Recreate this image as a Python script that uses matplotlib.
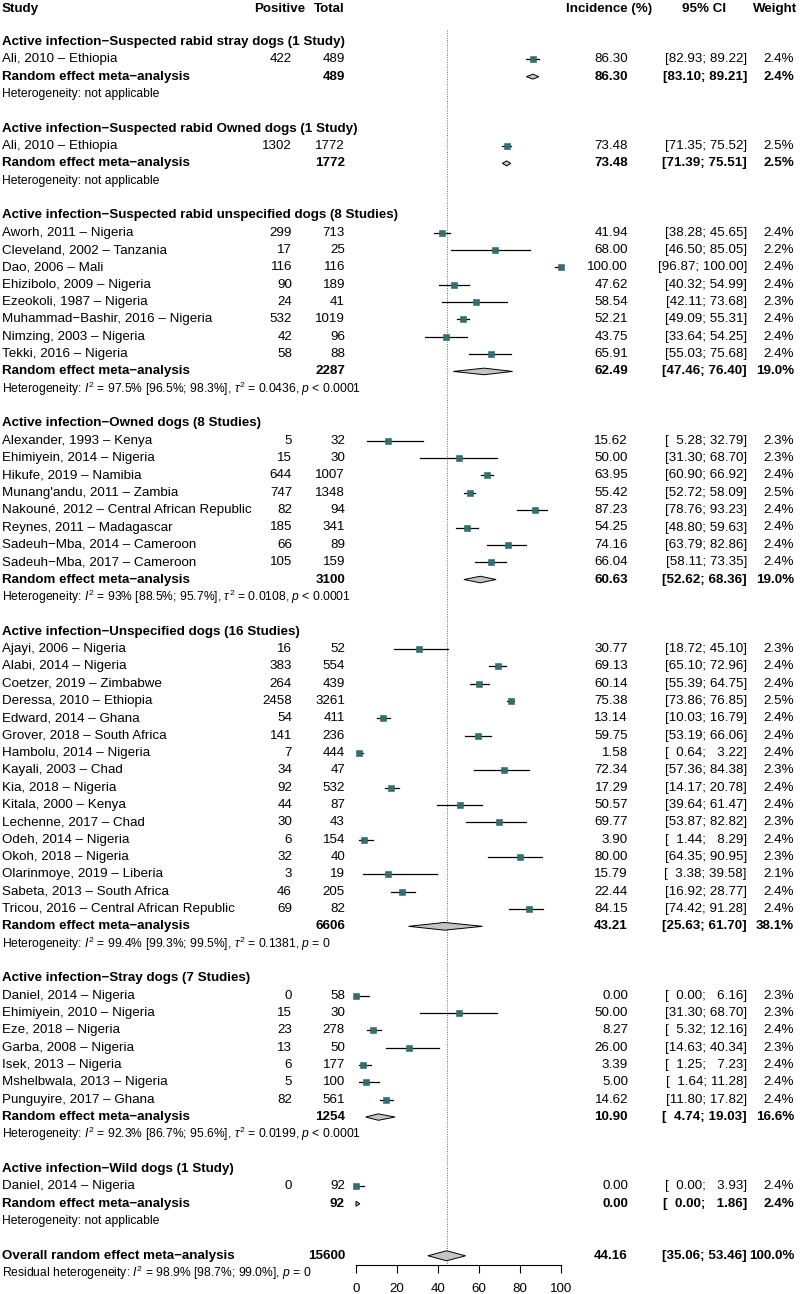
import matplotlib
matplotlib.use('Agg')
import matplotlib.pyplot as plt
import numpy as np
from matplotlib.transforms import blended_transform_factory

plt.rcParams['font.family'] = ['Liberation Sans', 'DejaVu Sans']
plt.rcParams['mathtext.fontset'] = 'custom'
plt.rcParams['mathtext.rm'] = 'Liberation Sans'
plt.rcParams['mathtext.it'] = 'Liberation Sans:italic'
plt.rcParams['mathtext.bf'] = 'Liberation Sans:bold'

# ---- data ----
group_titles = [
    "Active infection\u2212Suspected rabid stray dogs (1 Study)",
    "Active infection\u2212Suspected rabid Owned dogs (1 Study)",
    "Active infection\u2212Suspected rabid unspecified dogs (8 Studies)",
    "Active infection\u2212Owned dogs (8 Studies)",
    "Active infection\u2212Unspecified dogs (16 Studies)",
    "Active infection\u2212Stray dogs (7 Studies)",
    "Active infection\u2212Wild dogs (1 Study)",
]
group_sizes = [1, 1, 8, 8, 16, 7, 1]

study_names = [
    "Ali, 2010 \u2013 Ethiopia",
    "Ali, 2010 \u2013 Ethiopia",
    "Aworh, 2011 \u2013 Nigeria", "Cleveland, 2002 \u2013 Tanzania", "Dao, 2006 \u2013 Mali",
    "Ehizibolo, 2009 \u2013 Nigeria", "Ezeokoli, 1987 \u2013 Nigeria",
    "Muhammad\u2212Bashir, 2016 \u2013 Nigeria", "Nimzing, 2003 \u2013 Nigeria", "Tekki, 2016 \u2013 Nigeria",
    "Alexander, 1993 \u2013 Kenya", "Ehimiyein, 2014 \u2013 Nigeria", "Hikufe, 2019 \u2013 Namibia",
    "Munang'andu, 2011 \u2013 Zambia", "Nakouné, 2012 \u2013 Central African Republic",
    "Reynes, 2011 \u2013 Madagascar", "Sadeuh\u2212Mba, 2014 \u2013 Cameroon", "Sadeuh\u2212Mba, 2017 \u2013 Cameroon",
    "Ajayi, 2006 \u2013 Nigeria", "Alabi, 2014 \u2013 Nigeria", "Coetzer, 2019 \u2013 Zimbabwe",
    "Deressa, 2010 \u2013 Ethiopia", "Edward, 2014 \u2013 Ghana", "Grover, 2018 \u2013 South Africa",
    "Hambolu, 2014 \u2013 Nigeria", "Kayali, 2003 \u2013 Chad", "Kia, 2018 \u2013 Nigeria",
    "Kitala, 2000 \u2013 Kenya", "Lechenne, 2017 \u2013 Chad", "Odeh, 2014 \u2013 Nigeria",
    "Okoh, 2018 \u2013 Nigeria", "Olarinmoye, 2019 \u2013 Liberia", "Sabeta, 2013 \u2013 South Africa",
    "Tricou, 2016 \u2013 Central African Republic",
    "Daniel, 2014 \u2013 Nigeria", "Ehimiyein, 2010 \u2013 Nigeria", "Eze, 2018 \u2013 Nigeria",
    "Garba, 2008 \u2013 Nigeria", "Isek, 2013 \u2013 Nigeria", "Mshelbwala, 2013 \u2013 Nigeria",
    "Punguyire, 2017 \u2013 Ghana",
    "Daniel, 2014 \u2013 Nigeria",
]
positive = [422, 1302, 299, 17, 116, 90, 24, 532, 42, 58,
            5, 15, 644, 747, 82, 185, 66, 105,
            16, 383, 264, 2458, 54, 141, 7, 34, 92, 44, 30, 6, 32, 3, 46, 69,
            0, 15, 23, 13, 6, 5, 82, 0]
total = [489, 1772, 713, 25, 116, 189, 41, 1019, 96, 88,
         32, 30, 1007, 1348, 94, 341, 89, 159,
         52, 554, 439, 3261, 411, 236, 444, 47, 532, 87, 43, 154, 40, 19, 205, 82,
         58, 30, 278, 50, 177, 100, 561, 92]
incidence = [86.30, 73.48, 41.94, 68.00, 100.00, 47.62, 58.54, 52.21, 43.75, 65.91,
             15.62, 50.00, 63.95, 55.42, 87.23, 54.25, 74.16, 66.04,
             30.77, 69.13, 60.14, 75.38, 13.14, 59.75, 1.58, 72.34, 17.29, 50.57, 69.77, 3.90,
             80.00, 15.79, 22.44, 84.15,
             0.00, 50.00, 8.27, 26.00, 3.39, 5.00, 14.62, 0.00]
ci_lower = [82.93, 71.35, 38.28, 46.50, 96.87, 40.32, 42.11, 49.09, 33.64, 55.03,
            5.28, 31.30, 60.90, 52.72, 78.76, 48.80, 63.79, 58.11,
            18.72, 65.10, 55.39, 73.86, 10.03, 53.19, 0.64, 57.36, 14.17, 39.64, 53.87, 1.44,
            64.35, 3.38, 16.92, 74.42,
            0.00, 31.30, 5.32, 14.63, 1.25, 1.64, 11.80, 0.00]
ci_upper = [89.22, 75.52, 45.65, 85.05, 100.00, 54.99, 73.68, 55.31, 54.25, 75.68,
            32.79, 68.70, 66.92, 58.09, 93.23, 59.63, 82.86, 73.35,
            45.10, 72.96, 64.75, 76.85, 16.79, 66.06, 3.22, 84.38, 20.78, 61.47, 82.82, 8.29,
            90.95, 39.58, 28.77, 91.28,
            6.16, 68.70, 12.16, 40.34, 7.23, 11.28, 17.82, 3.93]
weight = [2.4, 2.5, 2.4, 2.2, 2.4, 2.4, 2.3, 2.4, 2.4, 2.4,
          2.3, 2.3, 2.4, 2.5, 2.4, 2.4, 2.4, 2.4,
          2.3, 2.4, 2.4, 2.5, 2.4, 2.4, 2.4, 2.3, 2.4, 2.4, 2.3, 2.4, 2.3, 2.1, 2.4, 2.4,
          2.3, 2.3, 2.4, 2.3, 2.4, 2.4, 2.4, 2.4]

re_total = [489, 1772, 2287, 3100, 6606, 1254, 92]
re_est = [86.30, 73.48, 62.49, 60.63, 43.21, 10.90, 0.00]
re_lower = [83.10, 71.39, 47.46, 52.62, 25.63, 4.74, 0.00]
re_upper = [89.21, 75.51, 76.40, 68.36, 61.70, 19.03, 1.86]
re_weight = [2.4, 2.5, 19.0, 19.0, 38.1, 16.6, 2.4]
het_text = [
    "Heterogeneity: not applicable",
    "Heterogeneity: not applicable",
    r"Heterogeneity: $I^2$ = 97.5% [96.5%; 98.3%], $\tau^2$ = 0.0436, $p$ < 0.0001",
    r"Heterogeneity: $I^2$ = 93% [88.5%; 95.7%], $\tau^2$ = 0.0108, $p$ < 0.0001",
    r"Heterogeneity: $I^2$ = 99.4% [99.3%; 99.5%], $\tau^2$ = 0.1381, $p$ = 0",
    r"Heterogeneity: $I^2$ = 92.3% [86.7%; 95.6%], $\tau^2$ = 0.0199, $p$ < 0.0001",
    "Heterogeneity: not applicable",
]

overall_total = 15600
overall_est = 44.16
overall_lower = 35.06
overall_upper = 53.46
overall_weight = 100.0
residual_het = r"Residual heterogeneity: $I^2$ = 98.9% [98.7%; 99.0%], $p$ = 0"

x_ticks = [0, 20, 40, 60, 80, 100]

# ---- layout ----
W, H = 800, 1294
row0_px = 7.3
row_h = 17.34
axis_px = 1265

fig = plt.figure(figsize=(W / 100, H / 100), dpi=100)
ax = fig.add_axes([356 / W, 1 - axis_px / H, 205 / W, axis_px / H])
ax.set_xlim(0, 100)
ax.set_ylim((axis_px - row0_px) / row_h, -row0_px / row_h)
for s in ['top', 'left', 'right']:
    ax.spines[s].set_visible(False)
ax.spines['bottom'].set_linewidth(0.8)
ax.set_yticks([])
ax.set_xticks(x_ticks)
ax.tick_params(axis='x', direction='out', length=5.8, width=0.8, pad=7, labelsize=9.6)

tr = blended_transform_factory(fig.transFigure, ax.transData)
fs = 9.6
fs_het = 8.7
sq_col = '#2b7272'
dia_col = '#c4c4c4'


def txt(xpx, row, s, ha='left', bold=False, size=fs):
    ax.text(xpx / W, row, s, transform=tr, ha=ha, va='center',
            fontsize=size, fontweight='bold' if bold else 'normal', clip_on=False)


def pad(v):
    s = f"{v:.2f}"
    # two spaces are as wide as one digit in this font
    return "  " * max(0, 5 - len(s)) + s


def num_cols(row, est, lo, hi, w, bold=False):
    txt(628, row, f"{est:.2f}", ha='right', bold=bold)
    txt(747, row, f"[{pad(lo)}; {pad(hi)}]", ha='right', bold=bold)
    txt(794, row, f"{w:.1f}%", ha='right', bold=bold)


def diamond(row, est, lo, hi, w):
    h = (2.0 + 3.0 * np.sqrt(w / 100)) / row_h
    ax.fill([lo, est, hi, est], [row, row - h, row, row + h], facecolor=dia_col,
            edgecolor='black', linewidth=0.7, clip_on=False, zorder=3)


# header
txt(2, 0.1, "Study", bold=True)
txt(305, 0.1, "Positive", ha='right', bold=True)
txt(345, 0.1, "Total", ha='right', bold=True)
txt(652, 0.1, "Incidence (%)", ha='right', bold=True)
txt(704, 0.1, "95% CI", ha='center', bold=True)
txt(797, 0.1, "Weight", ha='right', bold=True)

row = 2
k = 0
for g, title in enumerate(group_titles):
    txt(2, row, title, bold=True)
    for i in range(group_sizes[g]):
        r = row + 1 + i
        txt(2, r, study_names[k])
        txt(292, r, str(positive[k]), ha='right')
        txt(345, r, str(total[k]), ha='right')
        ax.plot([ci_lower[k], ci_upper[k]], [r, r], color='black', lw=0.9,
                clip_on=False, zorder=2)
        ax.plot(incidence[k], r, marker='s', ms=4.4 * np.sqrt(weight[k] / 2.4),
                color=sq_col, mec='#3d5f5f', mew=0.4, clip_on=False, zorder=3)
        num_cols(r, incidence[k], ci_lower[k], ci_upper[k], weight[k])
        k += 1
    r = row + 1 + group_sizes[g]
    txt(2, r, "Random effect meta\u2212analysis", bold=True)
    txt(345, r, str(re_total[g]), ha='right', bold=True)
    diamond(r, re_est[g], re_lower[g], re_upper[g], re_weight[g])
    num_cols(r, re_est[g], re_lower[g], re_upper[g], re_weight[g], bold=True)
    txt(2, r + 1, het_text[g], size=fs_het)
    row = r + 3

# overall
txt(2, row, "Overall random effect meta\u2212analysis", bold=True)
txt(345, row, str(overall_total), ha='right', bold=True)
diamond(row, overall_est, overall_lower, overall_upper, overall_weight)
num_cols(row, overall_est, overall_lower, overall_upper, overall_weight, bold=True)
txt(2, row + 1, residual_het, size=fs_het)

# reference line at the overall estimate
ax.plot([overall_est, overall_est], [1.3, ax.get_ylim()[0]], color='#666666',
        lw=0.7, ls=(0, (1, 1.5)), zorder=1, clip_on=False)

fig.savefig('out.png', dpi=100, facecolor='white')
